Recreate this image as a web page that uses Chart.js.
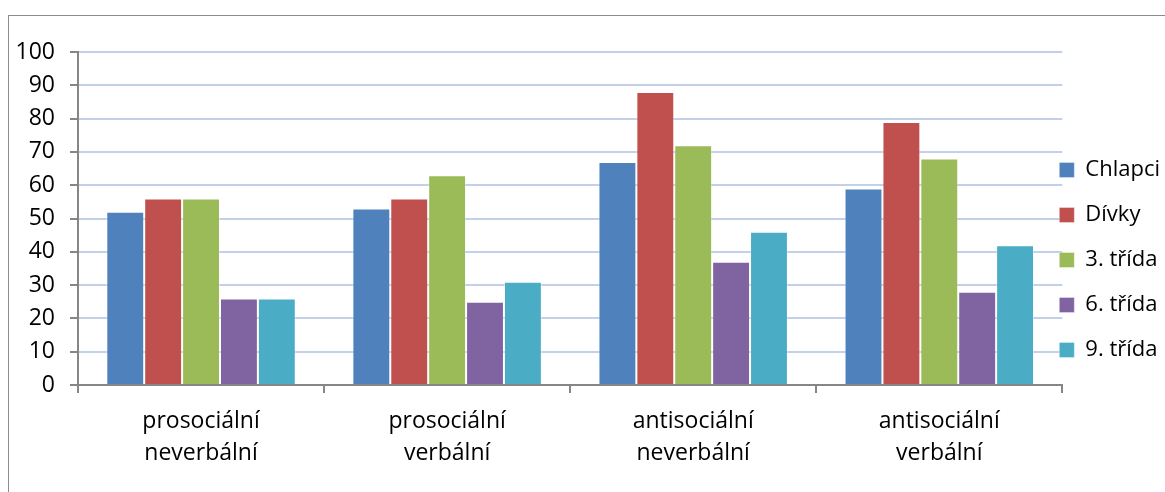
<!DOCTYPE html>
<html>
<head>
<meta charset="utf-8">
<script src="https://cdn.jsdelivr.net/npm/chart.js@4.4.1/dist/chart.umd.min.js"></script>
<style>
  html, body { margin: 0; padding: 0; background: #fff; overflow: hidden; }
  #frame {
    position: absolute; left: 8px; top: 15px;
    width: 1200px; height: 520px;
    border-top: 1px solid #8c8c8c; border-left: 1px solid #8c8c8c;
  }
  #wrap { position: absolute; left: 0; top: 0; width: 1187px; height: 452px; }
</style>
</head>
<body>
<div id="frame"><div id="wrap"><canvas id="c"></canvas></div></div>
<script>
// Bullying types by group (percent)
const categories = [
  ['prosociální', 'neverbální'],
  ['prosociální', 'verbální'],
  ['antisociální', 'neverbální'],
  ['antisociální', 'verbální']
];
const seriesNames = ['Chlapci', 'Dívky', '3. třída', '6. třída', '9. třída'];
const chlapci = [52, 53, 67, 59];
const divky   = [56, 56, 88, 79];
const trida3  = [56, 63, 72, 68];
const trida6  = [26, 25, 37, 28];
const trida9  = [26, 31, 46, 42];
const yTicks  = [0, 10, 20, 30, 40, 50, 60, 70, 80, 90, 100];

const colors = ['#4F81BD', '#C0504D', '#9BBB59', '#8064A2', '#4BACC6'];
const values = [chlapci, divky, trida3, trida6, trida9];

const FONT = '"Open Sans", Lato, sans-serif';

// Pull the legend in next to the plot area, like an office-style chart
const legendShift = {
  id: 'legendShift',
  afterLayout(chart) {
    const lg = chart.legend;
    if (!lg) return;
    const dx = lg.options.labels.padding + 3;
    lg.left -= dx;
    lg.right -= dx;
  }
};

new Chart(document.getElementById('c'), {
  type: 'bar',
  data: {
    labels: categories,
    datasets: seriesNames.map((name, i) => ({
      label: name,
      data: values[i],
      backgroundColor: colors[i],
      borderColor: 'rgba(255,255,255,0.35)',
      borderWidth: 1,
      categoryPercentage: 0.77,
      barPercentage: 1.0
    }))
  },
  options: {
    responsive: true,
    maintainAspectRatio: false,
    animation: false,
    layout: { padding: { top: 36, left: 0, right: 0, bottom: 0 } },
    plugins: {
      tooltip: { enabled: false },
      legend: {
        position: 'right',
        labels: {
          color: '#000',
          font: { family: FONT, size: 22 },
          boxWidth: 15,
          boxHeight: 15,
          padding: 23
        }
      }
    },
    scales: {
      x: {
        afterFit(scale) { scale.height = 83; },
        grid: {
          drawOnChartArea: false,
          drawTicks: true,
          tickLength: 8,
          tickColor: '#868686',
          lineWidth: 2
        },
        border: { color: '#868686', width: 2 },
        ticks: {
          color: '#000',
          font: { family: FONT, size: 23, lineHeight: 1.39 },
          padding: 12,
          maxRotation: 0
        }
      },
      y: {
        min: 0,
        max: 100,
        afterFit(scale) { scale.width = 69; },
        afterBuildTicks(scale) { scale.ticks = yTicks.map(v => ({ value: v })); },
        grid: {
          color: '#C3D0EA',
          lineWidth: 2,
          tickLength: 8,
          tickColor: '#868686'
        },
        border: { color: '#868686', width: 2 },
        ticks: {
          color: '#000',
          font: { family: FONT, size: 23 },
          padding: 15
        }
      }
    }
  },
  plugins: [legendShift]
});
</script>
</body>
</html>
